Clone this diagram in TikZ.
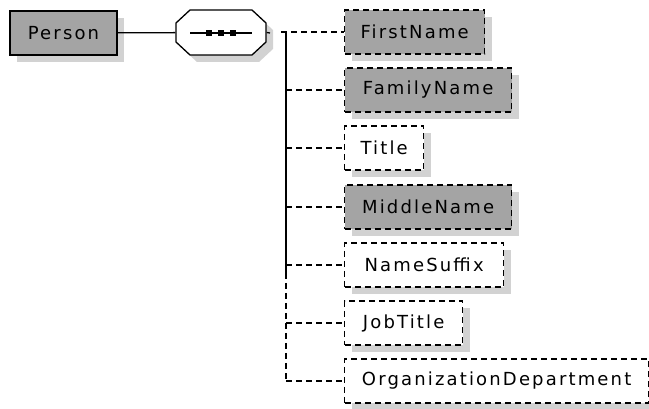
\documentclass[tikz,border=0pt]{standalone}
\usepackage{fontspec}
\setmainfont{DejaVu Sans}[LetterSpace=12]
\usetikzlibrary{shadows}
\definecolor{elemgray}{HTML}{A4A4A4}
\definecolor{shadegray}{HTML}{D2D2D2}

\begin{document}
\begin{tikzpicture}[x=1pt,y=-1pt,line width=1.3pt,
  every node/.style={font=\fontsize{18}{21}\selectfont},
  shade/.style={general shadow={fill=shadegray,shadow xshift=7pt,shadow yshift=-7pt}},
  link/.style={dash pattern=on 6pt off 4pt},
  child/.style={shade,draw,link,fill=white,minimum height=44pt,inner sep=0pt,anchor=west},
  req/.style={child,fill=elemgray}]
  \useasboundingbox (0,0) rectangle (649,409);

  \node[shade,draw,fill=elemgray,minimum width=107pt,minimum height=44pt,inner sep=0pt]
    (person) at (63.5,33) {Person};
  \node[minimum width=90pt,minimum height=44pt,inner sep=0pt] (seq) at (221,32.5) {};
  \fill[shadegray,shift={(7,7)}] (176,23) -- (190,10) -- (252,10) -- (266,23)
    -- (266,42) -- (252,55) -- (190,55) -- (176,42) -- cycle;
  \filldraw[fill=white] (176,23) -- (190,10) -- (252,10) -- (266,23)
    -- (266,42) -- (252,55) -- (190,55) -- (176,42) -- cycle;
  \draw (190,33) -- (252,33);
  \foreach \dx in {209,221,233}
    \fill (\dx,33) +(-3,-3) rectangle +(3,3);

  \node[req,minimum width=140pt] (first) at (344,32) {FirstName};
  \node[req,minimum width=167pt] (family) at (344,90) {FamilyName};
  \node[child,minimum width=79pt] (title) at (344,148) {Title};
  \node[req,minimum width=167pt] (middle) at (344,207) {MiddleName};
  \node[child,minimum width=159pt] (suffix) at (344,265) {NameSuffix};
  \node[child,minimum width=118pt] (job) at (344,323) {JobTitle};
  \node[child,minimum width=304pt] (dept) at (344,381) {OrganizationDepartment};

  \coordinate (stub) at (270,33);
  \coordinate (trunk) at (286,32);
  \coordinate (split) at (286,273);
  \coordinate (root) at (281,32);

  \draw (person) -- (seq);
  \draw (seq.east) -- (stub);
  \draw (trunk) -- (split);
  \draw[link] (split) -- (trunk |- dept.west);
  \draw[link] (root) -- (first.west);
  \foreach \n in {family,title,middle,suffix,job,dept}
    \draw[link] (trunk |- \n.west) -- (\n.west);
\end{tikzpicture}
\end{document}
